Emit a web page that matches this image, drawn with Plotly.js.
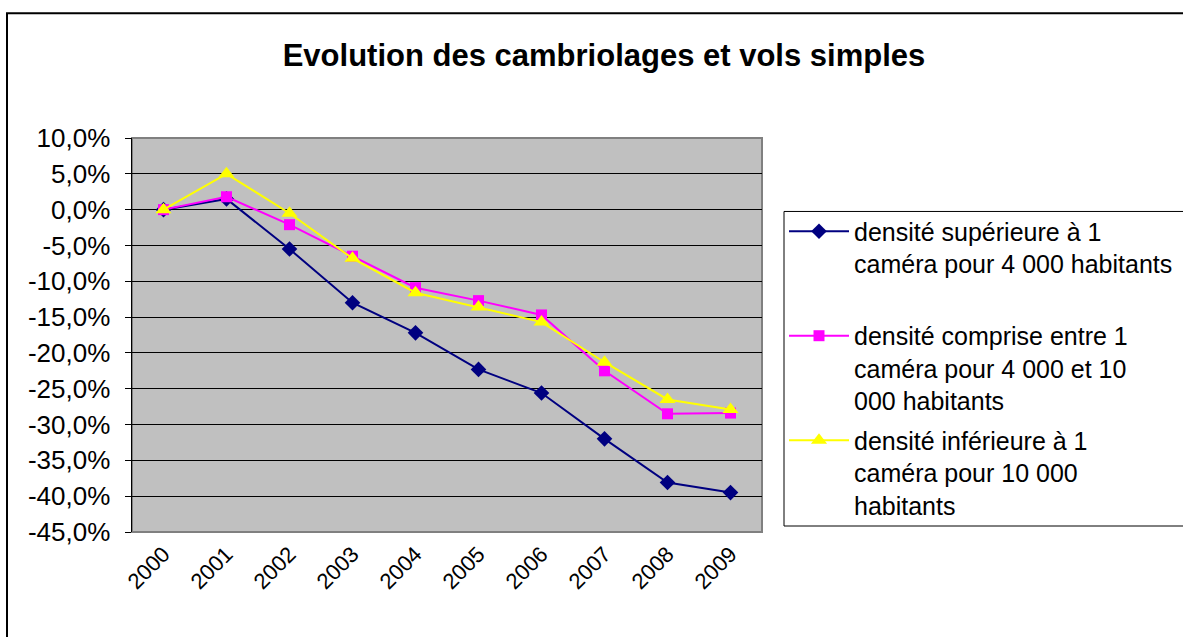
<!DOCTYPE html>
<html>
<head>
<meta charset="utf-8">
<script src="https://cdn.plot.ly/plotly-3.0.1.min.js"></script>
<style>html,body{margin:0;padding:0;background:#fff;}#chart{width:1183px;height:637px;}</style>
</head>
<body>
<div id="chart"></div>
<script>
// ---- data (percent) ----
const years = ['2000','2001','2002','2003','2004','2005','2006','2007','2008','2009'];
const densiteSuperieure = [0, 1.5, -5.5, -13.0, -17.2, -22.3, -25.6, -32.0, -38.1, -39.5];
const densiteComprise   = [0, 1.8, -2.1, -6.5, -10.9, -12.7, -14.7, -22.5, -28.5, -28.4];
const densiteInferieure = [0, 5.0, -0.5, -6.8, -11.6, -13.6, -15.7, -21.3, -26.5, -27.9];
const seriesNames = [
  'densité supérieure à 1<br>caméra pour 4 000 habitants<br> ',
  'densité comprise entre 1<br>caméra pour 4 000 et 10<br>000 habitants',
  'densité inférieure à 1<br>caméra pour 10 000<br>habitants'
];
const yTickVals = [10, 5, 0, -5, -10, -15, -20, -25, -30, -35, -40, -45];
const yTickText = ['10,0%','5,0%','0,0%','-5,0%','-10,0%','-15,0%','-20,0%','-25,0%','-30,0%','-35,0%','-40,0%','-45,0%'];
const chartTitle = 'Evolution des cambriolages et vols simples';

const FONT = 'Liberation Sans, Arial, sans-serif';
const W = 1183, H = 637;
const L = 132, R = 762, T = 137.5, B = 531.7;
const px2x = v => (v - L) / (R - L);
const px2y = v => (B - v) / (B - T);

const traces = [
  {name: seriesNames[0], y: densiteSuperieure, color: '#000080', symbol: 'diamond', size: 12},
  {name: seriesNames[1], y: densiteComprise, color: '#FF00FF', symbol: 'square', size: 11},
  {name: seriesNames[2], y: densiteInferieure, color: '#FFFF00', symbol: 'triangle-up', size: 14}
].map((s, i) => ({
  type: 'scatter', mode: 'lines+markers', x: years, y: s.y, name: s.name,
  legendgroup: 'g' + i,
  line: {color: s.color, width: 2},
  marker: {color: s.color, symbol: s.symbol, size: s.size, line: {width: 0}},
  hoverinfo: 'x+y'
}));

const layout = {
  width: W, height: H,
  margin: {l: L, r: W - R, t: T, b: H - B, autoexpand: false},
  paper_bgcolor: '#ffffff',
  plot_bgcolor: '#C0C0C0',
  font: {family: FONT, color: '#000', size: 21},
  title: {text: '<b>' + chartTitle + '</b>', font: {family: FONT, size: 31, color: '#000'},
          x: 604 / W, xref: 'container', xanchor: 'center', y: 1 - 55 / H, yanchor: 'middle', yref: 'container'},
  showlegend: true,
  legend: {
    x: px2x(784), y: px2y(208), xanchor: 'left', yanchor: 'top',
    bgcolor: 'rgba(0,0,0,0)', borderwidth: 0, valign: 'top',
    font: {family: FONT, size: 25, color: '#000'},
    itemwidth: 60, tracegroupgap: 4, traceorder: 'grouped'
  },
  xaxis: {
    type: 'category', range: [-0.5, 9.5], showgrid: false, zeroline: false,
    showline: false, ticks: '', tickangle: -45,
    tickfont: {family: FONT, size: 22, color: '#000'},
    ticklabelstandoff: 4
  },
  xaxis2: {
    overlaying: 'x', anchor: 'free', position: 45 / 55, type: 'linear',
    range: [-0.5, 9.5], tick0: -0.5, dtick: 1, showgrid: false, zeroline: false,
    showline: true, linecolor: '#000', linewidth: 1, ticks: 'outside', ticklen: 6,
    tickcolor: '#000', tickwidth: 1, showticklabels: false, side: 'bottom'
  },
  yaxis: {
    range: [-45, 10], tickvals: yTickVals, ticktext: yTickText,
    showgrid: true, gridcolor: '#000', gridwidth: 1, zeroline: false,
    showline: true, linecolor: '#000', linewidth: 1.5,
    ticks: 'outside', ticklen: 6, tickcolor: '#000',
    tickfont: {family: FONT, size: 26, color: '#000'},
    ticklabelstandoff: 9
  },
  shapes: [
    // plot area frame
    {type: 'rect', xref: 'paper', yref: 'paper', x0: 0, x1: 1, y0: 0, y1: 1,
     line: {color: '#808080', width: 2}, layer: 'below'},
    // legend frame
    {type: 'rect', xref: 'paper', yref: 'paper', x0: px2x(784), x1: px2x(1300), y0: px2y(525.7), y1: px2y(211),
     line: {color: '#000', width: 1}, fillcolor: '#ffffff', layer: 'below'},
    // outer chart frame
    {type: 'rect', xref: 'paper', yref: 'paper', x0: px2x(7), x1: px2x(1300), y0: px2y(700), y1: px2y(12.7),
     line: {color: '#000', width: 2}, layer: 'below'}
  ]
};

Plotly.newPlot('chart', traces, layout, {staticPlot: true, displayModeBar: false});
</script>
</body>
</html>
